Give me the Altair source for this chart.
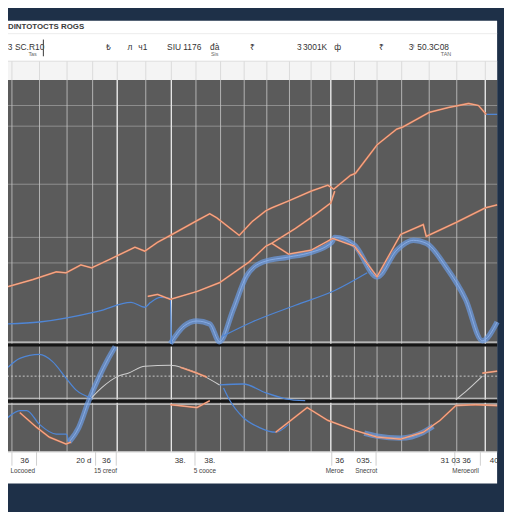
import altair as alt
import pandas as pd

# ---------------- data (x position, level) ----------------
orange_a_x = [8, 33, 57, 67, 82, 93, 110, 137, 147, 160, 173, 200, 213, 220, 243, 256, 270, 276, 293, 316, 333, 339, 356, 361, 383, 403, 409, 436, 456, 476, 486, 494]
orange_a_v = [168, 175, 183, 182, 190, 187, 195, 208, 204, 213, 220, 235, 242, 238, 220, 234, 245, 248, 255, 265, 271, 267, 281, 283, 312, 328, 330, 345, 350, 354, 352, 343]

orange_b_x = [150, 160, 173, 200, 223, 253, 270, 276, 300, 320, 336, 340]
orange_b_v = [158, 160, 155, 163, 172, 193, 209, 212, 227, 241, 253, 265]

orange_c_x = [276, 293, 316, 338, 360, 383, 407, 430, 433, 463, 493, 505]
orange_c_v = [212, 201, 205, 217, 209, 178, 221, 231, 219, 233, 248, 251]

ribbon_x = [173, 187, 200, 213, 223, 237, 250, 267, 293, 313, 337, 340, 360, 383, 403, 420, 433, 453, 473, 490, 505]
ribbon_v = [110, 128, 133, 130, 112, 145, 178, 193, 198, 202, 213, 218, 210, 178, 205, 215, 212, 188, 155, 113, 132]

blue_d_x = [8, 40, 100, 133, 147, 153, 163, 173, 174]
blue_d_v = [130, 132, 143, 152, 147, 152, 157, 156, 110]

blue_e_x = [225, 256, 300, 340, 373]
blue_e_v = [117, 132, 149, 164, 182]

blue_top_x = [494, 505]
blue_top_v = [343, 343]

mid_blue_x = [8, 20, 40, 53, 67, 77, 93]
mid_blue_v = [86, 95, 99, 92, 75, 63, 55]

steep_x = [70, 80, 90, 100, 110, 117]
steep_v = [10, 25, 52, 75, 95, 107]

mid_gray_x = [93, 103, 120, 130, 147, 173, 187, 207, 223]
mid_gray_v = [55, 65, 77, 80, 87, 88, 85, 77, 68]

mid_orange_x = [183, 200, 210]
mid_orange_v = [86, 80, 76]

mid_blue2_x = [223, 247, 270, 290, 310]
mid_blue2_v = [68, 69, 60, 54, 52]

right_gray_x = [463, 475, 490]
right_gray_v = [53, 63, 77]

right_orange_x = [490, 505]
right_orange_v = [80, 82]

low_blue_x = [8, 20, 27, 40, 57, 67, 70]
low_blue_v = [35, 42, 42, 28, 18, 18, 10]

low_orange_x = [20, 37, 50, 67, 72]
low_orange_v = [40, 25, 15, 8, 10]

band_orange_x = [173, 200, 213]
band_orange_v = [48, 45, 52]

low_blue2_x = [227, 233, 247, 263, 280, 293]
low_blue2_v = [65, 53, 35, 25, 20, 28]

low_orange2_x = [280, 312, 333, 360, 383, 407, 430, 447, 463, 483, 505]
low_orange2_v = [20, 45, 32, 22, 15, 13, 20, 32, 47, 48, 47]

low_band_x = [370, 383, 407, 430, 440]
low_band_v = [19, 16, 14, 20, 26]

grid_x = [12, 40, 68, 94, 119, 148, 174, 199, 224, 248, 271, 294, 316, 336, 360, 383, 408, 436, 464, 493]
bright_x = [119, 174, 336, 493]
grid_v = [352, 331, 272, 218, 192]
edge_v = [0]

footer_tick_x = [12, 37, 97, 118, 198, 337, 382, 462, 488]

title_text = "DINTOTOCTS ROGS"
header_x = [10, 30, 110, 132, 145, 187, 218, 256, 304, 320, 343, 388, 418, 440]
header_text = ["3", "SC.R10", "₺", "л", "ч1", "SIU 1176", "đà", "₹", "3", "3001K", "ф", "₹", "3ⁱ", "50.3C08"]
header_sub_x = [33, 218, 453]
header_sub_text = ["Tas", "Sis", "TAN"]

footer_x = [25, 85, 108, 183, 213, 345, 370, 452, 463, 474, 502]
footer_text = ["36", "20 d", "36", "38.", "38.", "36", "035.", "31", "03", "36", "40"]
footer_sub_x = [23, 107, 208, 340, 372, 473]
footer_sub_text = ["Locooed", "15 creof", "5 cooce", "Meroe", "Snecrot", "Meroeorll"]

# ---------------- build tables ----------------
def frame(name, xs, vs):
    return pd.DataFrame({"series": name, "x": xs, "v": vs, "i": list(range(len(xs)))})

orange_df = pd.concat([
    frame("a", orange_a_x, orange_a_v),
    frame("b", orange_b_x, orange_b_v),
    frame("c", orange_c_x, orange_c_v),
    frame("mo", mid_orange_x, mid_orange_v),
    frame("ro", right_orange_x, right_orange_v),
    frame("lo", low_orange_x, low_orange_v),
    frame("bo", band_orange_x, band_orange_v),
    frame("lo2", low_orange2_x, low_orange2_v),
])
ribbon_df = pd.concat([
    frame("r", ribbon_x, ribbon_v),
    frame("s", steep_x, steep_v),
    frame("lb", low_band_x, low_band_v),
])
blue_df = pd.concat([
    frame("d", blue_d_x, blue_d_v),
    frame("e", blue_e_x, blue_e_v),
    frame("t", blue_top_x, blue_top_v),
    frame("m", mid_blue_x, mid_blue_v),
    frame("m2", mid_blue2_x, mid_blue2_v),
    frame("l", low_blue_x, low_blue_v),
    frame("l2", low_blue2_x, low_blue2_v),
])
gray_df = pd.concat([
    frame("g", mid_gray_x, mid_gray_v),
    frame("rg", right_gray_x, right_gray_v),
])

xs = alt.Scale(domain=[8, 505], nice=False, zero=False)
ys = alt.Scale(domain=[0, 378], nice=False, zero=False)
X = alt.X("x:Q", scale=xs, axis=None)
Y = alt.Y("v:Q", scale=ys, axis=None)

one = pd.DataFrame({"a": [0]})
FONT = "Liberation Sans"

card = alt.Chart(one).mark_rect(color="#ffffff", clip=False).encode(
    x=alt.value(0), x2=alt.value(497), y=alt.value(-60), y2=alt.value(410))
plot_bg = alt.Chart(one).mark_rect(color="#5b5b5b").encode(
    x=alt.value(0), x2=alt.value(497), y=alt.value(0), y2=alt.value(378))
band_bg = alt.Chart(one).mark_rect(color="#f4f4f4", clip=False).encode(
    x=alt.value(0), x2=alt.value(497), y=alt.value(-19), y2=alt.value(0))
band_top = alt.Chart(one).mark_rule(color="#dcdcdc", clip=False, strokeWidth=1).encode(
    x=alt.value(0), x2=alt.value(497), y=alt.value(-19))
title_line = alt.Chart(one).mark_rule(color="#ececec", clip=False, strokeWidth=1).encode(
    x=alt.value(0), x2=alt.value(497), y=alt.value(-47))

gx = pd.DataFrame({"x": grid_x})
vgrid = alt.Chart(gx).mark_rule(color="#c4c4c4", strokeWidth=1, opacity=0.85).encode(x=X)
vbright = alt.Chart(pd.DataFrame({"x": bright_x})).mark_rule(color="#e6e6e6", strokeWidth=1.3).encode(x=X)
band_grid = alt.Chart(gx).mark_rule(color="#dadada", strokeWidth=1, clip=False).encode(
    x=X, y=alt.value(-19), y2=alt.value(0))
hgrid = alt.Chart(pd.DataFrame({"v": grid_v})).mark_rule(color="#8f8f8f", strokeWidth=1).encode(y=Y)
edge = alt.Chart(pd.DataFrame({"v": edge_v})).mark_rule(color="#e0e0e0", strokeWidth=1.5).encode(y=Y)

footer_ticks = alt.Chart(pd.DataFrame({"x": footer_tick_x})).mark_rule(
    color="#cfcfcf", strokeWidth=1, clip=False).encode(x=X, y=alt.value(378), y2=alt.value(392))

# structural panel separators
black_bands = alt.Chart(pd.DataFrame({"v": [108.5, 51.5]})).mark_rule(
    color="#151515", strokeWidth=3).encode(y=Y)
white_seps = alt.Chart(pd.DataFrame({"v": [111.5, 54.5, 48.5]})).mark_rule(
    color="#d2d2d2", strokeWidth=1.2).encode(y=Y)
dotted = alt.Chart(pd.DataFrame({"v": [77]})).mark_rule(
    color="#c8c8c8", strokeWidth=1, strokeDash=[2, 2]).encode(y=Y)

ribbon = alt.Chart(ribbon_df).mark_line(
    color="#6c9de6", strokeWidth=5.5, opacity=0.7, interpolate="monotone").encode(
    x=X, y=Y, detail="series:N", order="i:Q")
ribbon_core = alt.Chart(ribbon_df).mark_line(
    color="#8fb4ee", strokeWidth=1, opacity=0.8, interpolate="monotone").encode(
    x=X, y=Y, detail="series:N", order="i:Q")
blue = alt.Chart(blue_df).mark_line(
    color="#4f86d6", strokeWidth=1.3, interpolate="monotone").encode(
    x=X, y=Y, detail="series:N", order="i:Q")
gray = alt.Chart(gray_df).mark_line(
    color="#cfcfcf", strokeWidth=1.1, interpolate="monotone").encode(
    x=X, y=Y, detail="series:N", order="i:Q")
orange = alt.Chart(orange_df).mark_line(
    color="#e47c55", strokeWidth=1.8).encode(
    x=X, y=Y, detail="series:N", order="i:Q")
orange_core = alt.Chart(orange_df).mark_line(
    color="#f7d2bf", strokeWidth=0.6).encode(
    x=X, y=Y, detail="series:N", order="i:Q")

title = alt.Chart(pd.DataFrame({"x": [8], "t": [title_text]})).mark_text(
    align="left", baseline="middle", fontSize=8, fontWeight="bold", font=FONT,
    color="#3a3a3a", clip=False).encode(x=X, y=alt.value(-54), text="t:N")
header = alt.Chart(pd.DataFrame({"x": header_x, "t": header_text})).mark_text(
    align="center", baseline="middle", fontSize=8.5, font=FONT, color="#333333",
    clip=False).encode(x=X, y=alt.value(-33), text="t:N")
header_sub = alt.Chart(pd.DataFrame({"x": header_sub_x, "t": header_sub_text})).mark_text(
    align="center", baseline="middle", fontSize=5.5, font=FONT, color="#666666",
    clip=False).encode(x=X, y=alt.value(-26), text="t:N")
sep = alt.Chart(pd.DataFrame({"x": [44]})).mark_rule(
    color="#555555", strokeWidth=1.2, clip=False).encode(x=X, y=alt.value(-41), y2=alt.value(-24))

footer = alt.Chart(pd.DataFrame({"x": footer_x, "t": footer_text})).mark_text(
    align="center", baseline="middle", fontSize=8, font=FONT, color="#333333",
    clip=False).encode(x=X, y=alt.value(387), text="t:N")
footer_sub = alt.Chart(pd.DataFrame({"x": footer_sub_x, "t": footer_sub_text})).mark_text(
    align="center", baseline="middle", fontSize=6.5, font=FONT, color="#444444",
    clip=False).encode(x=X, y=alt.value(397), text="t:N")

chart = alt.layer(
    card, plot_bg, band_bg, band_top, title_line, band_grid,
    hgrid, vgrid, vbright, edge, footer_ticks,
    black_bands, white_seps, dotted,
    ribbon, ribbon_core, blue, gray, orange, orange_core,
    title, header, header_sub, sep, footer, footer_sub,
).properties(
    width=497, height=378,
    padding={"left": 0, "top": 69, "right": 7, "bottom": 57},
    autosize=alt.AutoSizeParams(type="none"),
    background="#1e3048",
).configure_view(strokeWidth=0)

chart.save("out.html", embed_options={"renderer": "svg", "actions": False})
